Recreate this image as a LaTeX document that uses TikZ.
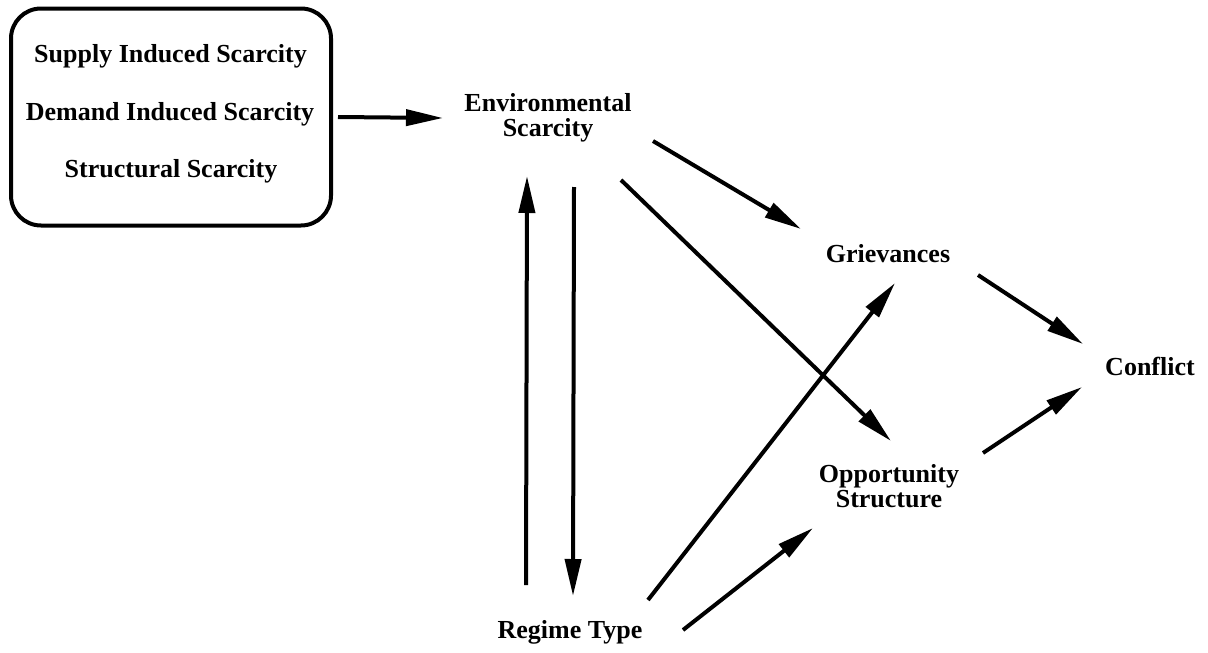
\documentclass[tikz,border=0pt]{standalone}
\usepackage{fontspec}
\setmainfont{Liberation Serif}
\usetikzlibrary{arrows.meta}
\tikzset{
	lbl/.style={font=\bfseries\fontsize{26}{25}\selectfont, align=center, inner sep=0pt, anchor=base},
	arr/.style={-{Triangle[length=37pt,width=16pt]}, line width=4pt},
}
\begin{document}
\begin{tikzpicture}[x=1pt, y=-1pt]
		\useasboundingbox (0,0) rectangle (1208,653);
		%scarcity box
		\node[draw, line width=4pt, rounded corners=30pt, minimum width=320pt, minimum height=217pt, inner sep=0pt] (box) at (171,117){};
		\node[lbl] (supply) at (170.5,62){Supply Induced Scarcity};
		\node[lbl] (demand) at (170,120){Demand Induced Scarcity};
		\node[lbl] (structural) at (171,177){Structural Scarcity};
		
		%factors
		\node[lbl] (env) at (548,136){Environmental\\Scarcity};
		\node[lbl] (griev) at (888,262){Grievances};
		\node[lbl] (opp) at (889,507){Opportunity\\Structure};
		\node[lbl] (regime) at (570,638){Regime Type};
		\node[lbl] (conflict) at (1150,375){Conflict};
		
		%arrows
		\draw[arr] ([xshift=5pt]box.east) -- ([shift={(-105,-18)}]env.base);
		\draw[arr] ([shift={(-44,-53)}]regime.base) -- ([shift={(-21,40)}]env.base);
		\draw[arr] ([shift={(26,51)}]env.base) -- ([shift={(3,-42)}]regime.base);
		\draw[arr] ([shift={(105,5)}]env.base) -- ([shift={(-87,-33)}]griev.base);
		\draw[arr] ([shift={(73,44)}]env.base) -- ([shift={(2,-66)}]opp.base);
		\draw[arr] ([shift={(78,-38)}]regime.base) -- ([shift={(7,21)}]griev.base);
		\draw[arr] ([shift={(113,-8)}]regime.base) -- ([shift={(-76,21)}]opp.base);
		\draw[arr] ([shift={(90,13)}]griev.base) -- ([shift={(-67,-31)}]conflict.base);
		\draw[arr] ([shift={(94,-54)}]opp.base) -- ([shift={(-68,12)}]conflict.base);
		\end{tikzpicture}
\end{document}
